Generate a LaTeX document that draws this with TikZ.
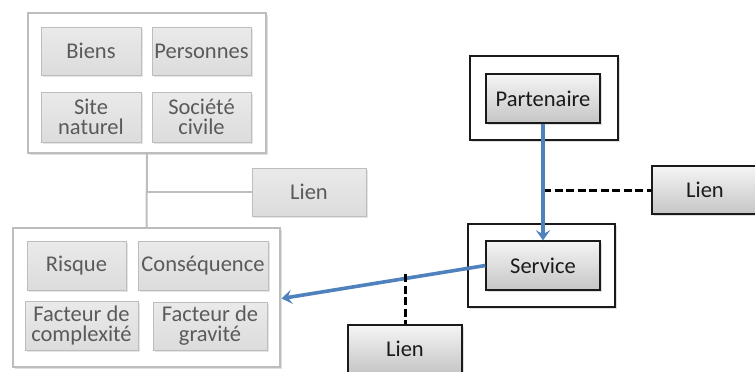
\documentclass[tikz,border=0pt]{standalone}
\usepackage{fontspec}
\setmainfont{Carlito}
\usetikzlibrary{arrows.meta,shadows}
\definecolor{ink}{HTML}{1A1A1A}
\definecolor{ink2}{HTML}{5A5A5A}
\definecolor{rim}{HTML}{BDBDBD}
\definecolor{pale}{HTML}{DCDCDC}
\definecolor{lblue}{HTML}{4F81BD}
\tikzset{
  >={Stealth[length=3.6mm,width=5mm,inset=1.4mm]},
  every picture/.style={line width=0.6pt,font=\fontsize{22.5}{20}\selectfont},
  frame/.style={draw=rim,fill=white,line width=1.2pt,drop shadow={shadow xshift=1.5pt,shadow yshift=-1.5pt,fill=black!25}},
  frameb/.style={draw=ink,fill=white,line width=1.2pt,drop shadow={shadow xshift=1.5pt,shadow yshift=-1.5pt,fill=black!25}},
  cell/.style={draw=rim,top color=pale!60,bottom color=pale,text=ink2,align=center,inner sep=1pt,
    drop shadow={shadow xshift=1.5pt,shadow yshift=-1.5pt,fill=black!20}},
  cellb/.style={draw=ink,top color=gray!8,bottom color=gray!45,text=ink,align=center,inner sep=1pt,line width=1.1pt,
    drop shadow={shadow xshift=1.5pt,shadow yshift=-1.5pt,fill=black!25}},
  gline/.style={draw=rim,line width=2pt},
  barr/.style={->,draw=lblue,line width=3.6pt},
  dlink/.style={draw=black,line width=3pt,dash pattern=on 8pt off 3.5pt},
}
\begin{document}
\begin{tikzpicture}[x=1pt,y=-1pt]
  \useasboundingbox (0,0) rectangle (755,372);
  % left side
  \node[frame,minimum width=238,minimum height=140] (enj) at (147,83) {};
  \node[cell,minimum width=100,minimum height=48] (bie) at (91,51) {Biens};
  \node[cell,minimum width=99,minimum height=48] (per) at (201.5,51) {Personnes};
  \node[cell,minimum width=100,minimum height=50] (sit) at (91,117) {Site\\naturel};
  \node[cell,minimum width=99,minimum height=50] (soc) at (201.5,117) {Société\\civile};
  \node[frame,minimum width=267,minimum height=139] (ris) at (146.5,297.5) {};
  \node[cell,minimum width=99,minimum height=49] (rsq) at (76.5,265.5) {Risque};
  \node[cell,minimum width=130,minimum height=49] (csq) at (203,265.5) {Conséquence};
  \node[cell,minimum width=113,minimum height=49] (fcx) at (81.5,325.5) {Facteur de\\complexité};
  \node[cell,minimum width=114,minimum height=48] (fgr) at (210,326) {Facteur de\\gravité};
  \node[cell,minimum width=114,minimum height=48] (lien1) at (309,192) {Lien};
  \draw[gline] (enj.south) -- (ris.north);
  \coordinate (j1) at (enj.south |- lien1.west);
  \draw[gline] (j1) -- (lien1.west);
  % right side
  \node[frameb,minimum width=148,minimum height=84] (pbox) at (544,98) {};
  \node[cellb,minimum width=114,minimum height=49] (par) at (543,98.5) {Partenaire};
  \node[frameb,minimum width=147,minimum height=83] (sbox) at (541.5,265.5) {};
  \node[cellb,minimum width=114,minimum height=49] (ser) at (543,265.5) {Service};
  \node[cellb,minimum width=106,minimum height=48] (lien2) at (705,190) {Lien};
  \node[cellb,minimum width=114,minimum height=48] (lien3) at (405,349) {Lien};
  \coordinate (j2) at (par.south |- lien2.west);
  \draw[dlink] (j2) -- (lien2.west);
  \draw[barr] (par.south) -- (ser.north);
  \draw[barr] (ser.west) -- ([xshift=1pt,yshift=-1pt]ris.east);
  \coordinate (j3) at (lien3.north |- 0,274);
  \draw[dlink] (j3) -- (lien3.north);
\end{tikzpicture}
\end{document}
